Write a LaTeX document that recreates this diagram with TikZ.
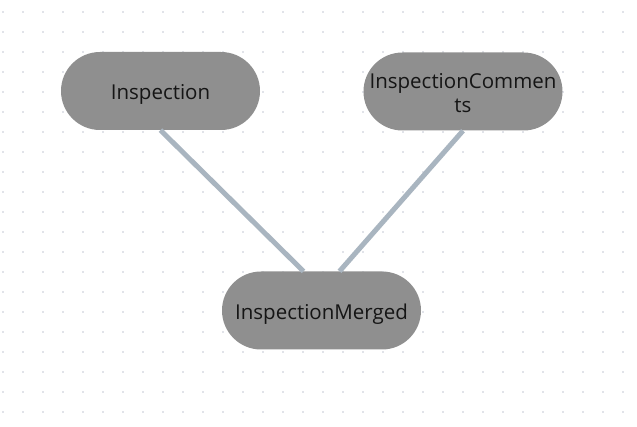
\documentclass[tikz,border=0pt]{standalone}
\usepackage{fontspec}
\setmainfont{Open Sans}
\definecolor{nodefill}{HTML}{8F8F8F}
\definecolor{linkc}{HTML}{A9B5C0}
\definecolor{dotc}{HTML}{C4C8D4}
\definecolor{txt}{HTML}{151515}
\begin{document}
\begin{tikzpicture}[x=1pt,y=-1pt,
  entity/.style={rectangle, rounded corners=39pt, fill=nodefill, minimum width=199pt, minimum height=78pt,
    inner sep=0pt},
  etext/.style={text=txt, font=\fontsize{20.5}{24}\selectfont, align=center, inner sep=0pt},
  link/.style={draw=linkc, line width=5pt}]
\useasboundingbox (0,0) rectangle (637,427);
\fill[white] (0,0) rectangle (637,427);
\foreach \i in {0,...,31}{
  \foreach \j in {0,...,20}{
    \fill[dotc] (3+20*\i,12+20*\j) circle (0.9pt);
  }
}
\node[entity, label={[etext, yshift=-3.5pt]center:Inspection}] (insp) at (160.5,91) {};
\node[entity, label={[etext, yshift=-2pt]center:InspectionCommen\\ts}] (comm) at (463,91.5) {};
\node[entity, label={[etext, yshift=-3.5pt]center:InspectionMerged}] (merg) at (321.5,310.5) {};
\draw[link] (insp.south) -- ([xshift=-18pt]merg.north);
\draw[link] (comm.south) -- ([xshift=18pt]merg.north);
\end{tikzpicture}
\end{document}
